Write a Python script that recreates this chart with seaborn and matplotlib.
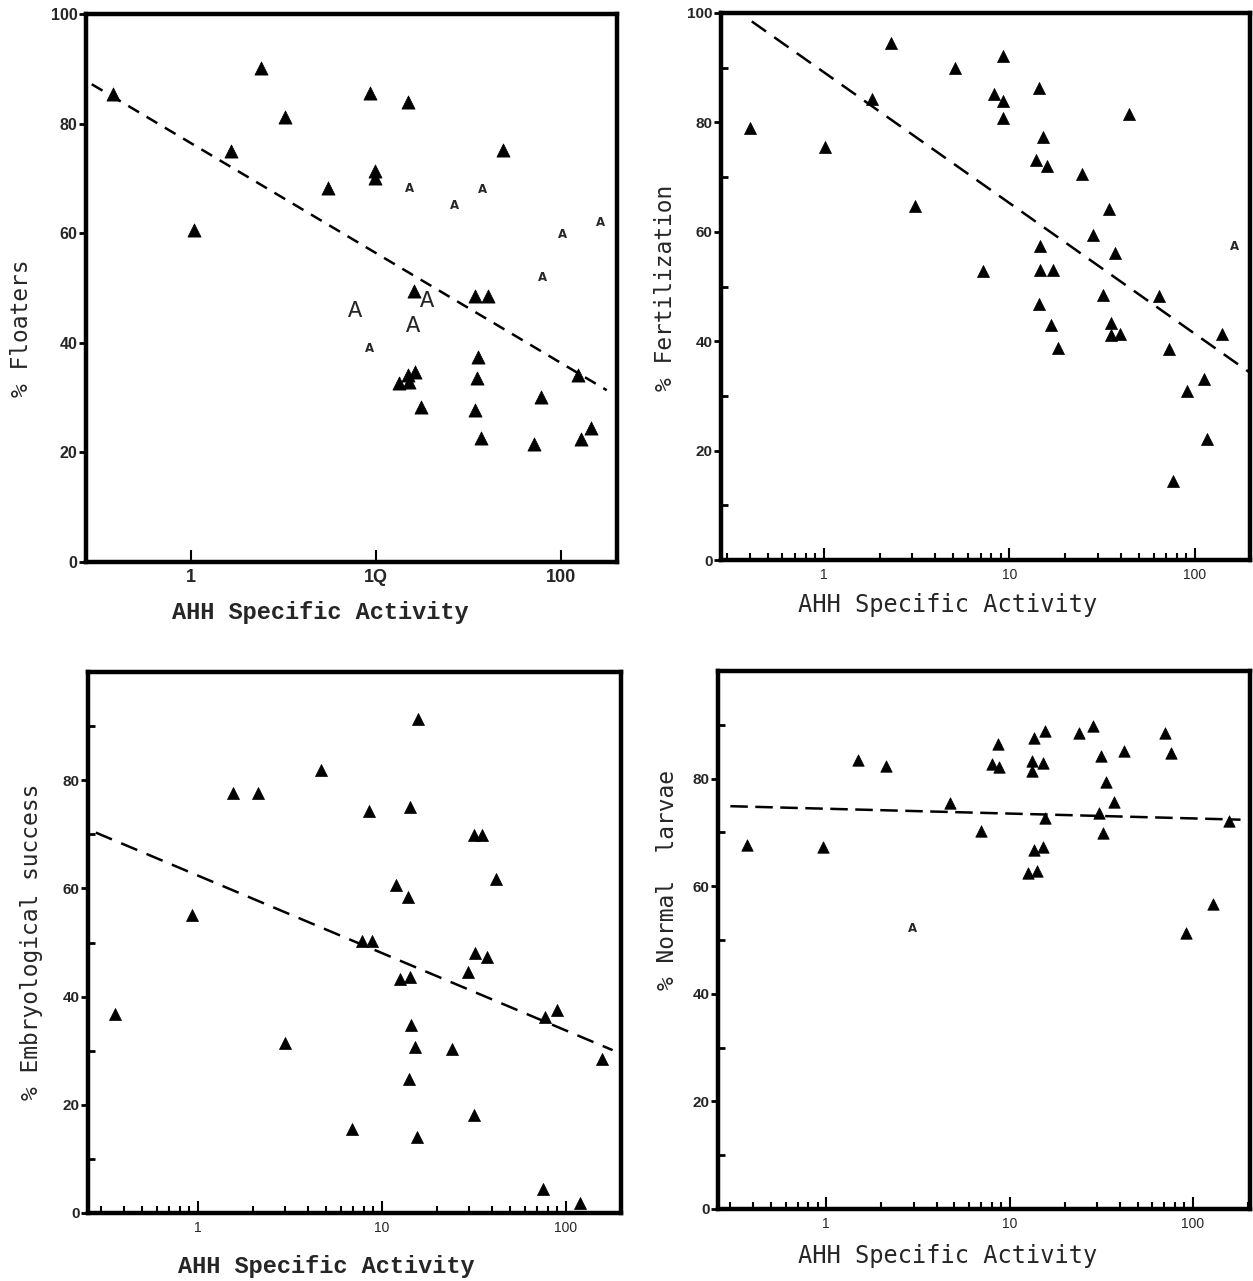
import numpy as np
import pandas as pd
import matplotlib
matplotlib.use("Agg")
import matplotlib.pyplot as plt
import seaborn as sns
from matplotlib.ticker import LogLocator, FixedLocator, NullFormatter, NullLocator

sns.set_style("ticks")
plt.rcParams["font.family"] = ["DejaVu Sans"]

# ---- panel 1: % Floaters ----
flo_x = [0.38, 1.04, 1.65, 2.38, 3.22, 5.5, 9.3, 9.85, 9.85, 14.9, 15.9, 13.3, 14.9, 15.1,
         16.1, 17.4, 34.3, 40.4, 48.6, 35.6, 35.0, 34.3, 36.9, 71.5, 77.9, 123, 127, 144]
flo_y = [85.4, 60.5, 75.0, 90.2, 81.2, 68.2, 85.5, 71.4, 70.1, 84.0, 49.5, 32.6, 34.1, 32.8,
         34.6, 28.3, 48.6, 48.6, 75.2, 37.5, 33.6, 27.8, 22.7, 21.6, 30.1, 34.2, 22.5, 24.5]
# scan artefacts printed as letter "A"
flo_a_small_x = [15.1, 37.5, 26.6, 101, 163, 79.6, 9.15]
flo_a_small_y = [68.1, 68.0, 65.0, 59.7, 62.0, 51.9, 38.9]
flo_a_big_x = [18.8, 7.67, 15.8]
flo_a_big_y = [47.7, 45.9, 43.2]
flo_fit = [76.4, -20.06]
flo_fit_range = [0.29, 176]

# ---- panel 2: % Fertilization ----
fer_x = [0.40, 1.02, 1.82, 2.32, 3.12, 5.1, 9.2, 8.3, 9.3, 9.3, 7.2, 14.5, 15.1, 13.9, 15.9,
         24.7, 14.6, 14.6, 17.2, 14.4, 28.4, 34.6, 37.3, 32.1, 44.1, 63.8, 16.8, 18.4, 35.3,
         35.3, 39.5, 72.1, 75.8, 90.6, 112, 116, 140]
fer_y = [78.9, 75.5, 84.2, 94.5, 64.8, 89.9, 92.1, 85.2, 84.0, 80.8, 52.8, 86.2, 77.3, 73.1,
         72.0, 70.6, 57.4, 53.1, 53.1, 46.8, 59.5, 64.1, 56.2, 48.4, 81.5, 48.3, 42.9, 38.7,
         43.4, 41.1, 41.4, 38.5, 14.4, 30.9, 33.1, 22.2, 41.4]
fer_a_small_x = [164]
fer_a_small_y = [57.4]
fer_fit = [89.2, -23.93]
fer_fit_range = [0.41, 198]

# ---- panel 3: % Embryological success ----
emb_x = [15.7, 4.7, 1.55, 2.12, 8.5, 14.3, 31.7, 35.0, 41.7, 12.0, 13.9, 0.93, 7.8, 8.9,
         32.1, 37.4, 12.6, 14.3, 29.4, 0.356, 90.2, 76.9, 2.97, 14.5, 15.1, 24.1, 158, 14.1,
         31.7, 6.9, 15.5, 75.7, 119]
emb_y = [91.3, 81.9, 77.7, 77.7, 74.3, 75.0, 69.9, 69.9, 61.8, 60.6, 58.4, 55.0, 50.2, 50.2,
         48.0, 47.3, 43.3, 43.6, 44.6, 36.8, 37.5, 36.2, 31.5, 34.7, 30.6, 30.3, 28.5, 24.7,
         18.1, 15.5, 14.0, 4.4, 1.9]
emb_fit = [62.4, -14.32]
emb_fit_range = [0.28, 180]

# ---- panel 4: % Normal larvae ----
lar_x = [0.37, 0.96, 1.49, 2.12, 4.73, 7.0, 8.6, 8.0, 8.8, 13.6, 15.7, 13.3, 15.3, 13.3,
         15.7, 13.6, 15.3, 12.6, 14.2, 24.0, 28.7, 31.7, 33.8, 30.9, 37.3, 32.5, 42.2, 70.8,
         76.4, 92.3, 128, 157]
lar_y = [67.7, 67.2, 83.4, 82.4, 75.5, 70.3, 86.4, 82.7, 82.1, 87.6, 88.9, 83.3, 82.9, 81.5,
         72.7, 66.8, 67.2, 62.5, 62.8, 88.4, 89.7, 84.2, 79.4, 73.6, 75.7, 69.8, 85.1, 88.5,
         84.7, 51.3, 56.6, 72.1]
lar_a_small_x = [2.94]
lar_a_small_y = [52.1]
lar_fit = [74.4, -0.90]
lar_fit_range = [0.30, 182]

W, H = 1253, 1281
fig = plt.figure(figsize=(W / 100, H / 100), dpi=100)


def px_axes(left, right, top, bottom):
    return fig.add_axes([left / W, 1 - bottom / H, (right - left) / W, (bottom - top) / H])


def draw_panel(ax, xs, ys, fit, fit_range, xlim, size, dash, a_small=None, a_big=None):
    sns.scatterplot(x=xs, y=ys, marker="^", s=size, color="black", edgecolor="black",
                    linewidth=0.5, ax=ax, zorder=3)
    lx = np.logspace(np.log10(fit_range[0]), np.log10(fit_range[1]), 50)
    fit_df = pd.DataFrame({"x": lx, "y": fit[0] + fit[1] * np.log10(lx)})
    sns.lineplot(data=fit_df, x="x", y="y", color="black", lw=1.8, ax=ax,
                 linestyle=(0, dash))
    if a_small is not None:
        for x, y in zip(*a_small):
            ax.text(x, y, "A", ha="center", va="center", fontsize=8.5, fontweight="bold")
    if a_big is not None:
        for x, y in zip(*a_big):
            ax.text(x, y, "A", ha="center", va="center", fontsize=17, family="Liberation Mono")
    ax.set_xscale("log")
    ax.set_xlim(*xlim)
    ax.set_ylim(0, 100)
    ax.set_xlabel("")
    ax.set_ylabel("")
    for sp in ax.spines.values():
        sp.set_visible(True)
        sp.set_linewidth(3.2)
        sp.set_color("black")


# panel 1
ax1 = px_axes(86, 617, 14, 562)
draw_panel(ax1, flo_x, flo_y, flo_fit, flo_fit_range, (0.27, 200), 90, (5, 3.5),
           (flo_a_small_x, flo_a_small_y), (flo_a_big_x, flo_a_big_y))
ax1.xaxis.set_major_locator(FixedLocator([1, 10, 100]))
ax1.xaxis.set_minor_locator(NullLocator())
ax1.set_xticklabels(["1", "1Q", "100"], fontsize=13, fontweight="bold",
                    family="Liberation Sans")
ax1.set_yticks([0, 20, 40, 60, 80, 100])
ax1.yaxis.set_minor_locator(NullLocator())
ax1.set_yticklabels(["0", "20", "40", "60", "80", "100"], fontsize=11.5, fontweight="bold",
                    family="Liberation Sans")
ax1.tick_params(axis="x", which="major", direction="in", length=9, width=1.5, pad=5,
                bottom=True, top=False, color="black")
ax1.tick_params(axis="y", which="major", direction="out", length=5, width=2, pad=1,
                left=True, right=False, color="black")

# panel 2
ax2 = px_axes(721, 1250, 13, 560)
draw_panel(ax2, fer_x, fer_y, fer_fit, fer_fit_range, (0.28, 198), 75, (7, 4),
           (fer_a_small_x, fer_a_small_y))

# panel 3
ax3 = px_axes(88, 621, 672, 1213)
draw_panel(ax3, emb_x, emb_y, emb_fit, emb_fit_range, (0.254, 200), 75, (7, 4))

# panel 4
ax4 = px_axes(718, 1250, 671, 1209)
draw_panel(ax4, lar_x, lar_y, lar_fit, lar_fit_range, (0.257, 205), 68, (7, 3),
           (lar_a_small_x, lar_a_small_y))

for ax, ymaj in [(ax2, [0, 20, 40, 60, 80, 100]), (ax3, [0, 20, 40, 60, 80]),
                 (ax4, [0, 20, 40, 60, 80])]:
    ax.xaxis.set_major_locator(FixedLocator([1, 10, 100]))
    ax.xaxis.set_minor_locator(LogLocator(base=10, subs=np.arange(2, 10)))
    ax.xaxis.set_minor_formatter(NullFormatter())
    ax.set_xticklabels(["1", "10", "100"], fontsize=10, family="Liberation Sans")
    ax.set_yticks(ymaj)
    ax.set_yticklabels([str(v) for v in ymaj], fontsize=11, fontweight="bold",
                       family="Liberation Sans")
    ax.yaxis.set_minor_locator(FixedLocator([10, 30, 50, 70, 90]))
    ax.tick_params(axis="x", which="major", direction="in", length=9, width=1.5, pad=6,
                   bottom=True, top=False, color="black")
    ax.tick_params(axis="x", which="minor", direction="in", length=5, width=1.5,
                   bottom=True, top=False, color="black")
    ax.tick_params(axis="y", which="major", direction="out", length=5, width=2, pad=1,
                   left=True, right=False, color="black")
    ax.tick_params(axis="y", which="minor", direction="in", length=5, width=2,
                   left=True, right=False, color="black")

# axis titles
xl_serif = dict(fontsize=17, fontweight="bold", family="Liberation Mono", ha="center", va="center")
xl_sans = dict(fontsize=17, family="DejaVu Sans Mono", ha="center", va="center")
yl = dict(fontsize=16.5, family="DejaVu Sans Mono", rotation=90, ha="center", va="center")

fig.text(320 / W, 1 - 613 / H, "AHH Specific Activity", **xl_serif)
fig.text(948 / W, 1 - 605 / H, "AHH Specific Activity", **xl_sans)
fig.text(326 / W, 1 - 1266 / H, "AHH Specific Activity", **xl_serif)
fig.text(948 / W, 1 - 1256 / H, "AHH Specific Activity", **xl_sans)

fig.text(22 / W, 1 - 328 / H, "% Floaters", **yl)
fig.text(666 / W, 1 - 288 / H, "% Fertilization", **yl)
fig.text(32 / W, 1 - 942 / H, "% Embryological success", **yl)
fig.text(668 / W, 1 - 880 / H, "% Normal  larvae", **yl)

fig.savefig("out.png", dpi=100)
